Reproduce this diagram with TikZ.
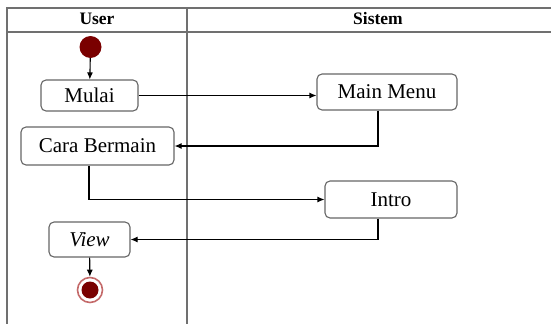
\documentclass[tikz,border=0pt]{standalone}
\usepackage{fontspec}
\setmainfont{Liberation Serif}
\usepackage{xcolor}
\usetikzlibrary{arrows.meta,positioning}
\definecolor{startred}{HTML}{7A0000}
\definecolor{ringred}{HTML}{C46A6A}
\definecolor{lanegray}{HTML}{707070}

\begin{document}
\begin{tikzpicture}[x=1pt,y=-1pt,>={Latex[length=7pt,width=6pt]},
   every node/.style={font=\fontsize{21}{24}\selectfont},
   act/.style={draw=gray!80!black,line width=1.1pt,rounded corners=5pt,fill=white,inner sep=0pt},
   lane/.style={draw=lanegray,line width=1.4pt},
   head/.style={font=\fontsize{17.5}{20}\selectfont\bfseries},
   flow/.style={->,line width=1.1pt}]
\useasboundingbox (0,0) rectangle (551,324);
% swimlanes
\draw[lane] (551,8) -- (7,8) -- (7,324);
\draw[lane] (7,32) -- (551,32);
\draw[lane] (187,8) -- (187,324);
\node[head] (user) at (97,19) {User};
\node[head] (sistem) at (378,19) {Sistem};
% activities
\node[circle,fill=startred,minimum size=22pt,inner sep=0pt] (start) at (90.5,47) {};
\node[act,minimum width=97pt,minimum height=31pt] (mulai) at (89.5,95.5) {Mulai};
\node[act,minimum width=140pt,minimum height=36pt] (menu) at (387,92) {Main Menu};
\node[act,minimum width=153pt,minimum height=38pt] (cara) at (97.5,146) {Cara Bermain};
\node[act,minimum width=132pt,minimum height=37pt] (intro) at (391,199.5) {Intro};
\node[act,minimum width=81pt,minimum height=35pt] (view) at (89.5,239.5) {\textit{View}};
\node[circle,draw=ringred,line width=1.6pt,fill=white,minimum size=25pt,inner sep=0pt] (end) at (90,290) {};
\fill[startred] (end.center) circle (8.5pt);
% flows
\draw[flow] (start) -- (mulai);
\draw[flow] (mulai.east) -- (mulai.east -| menu.west);
\draw[flow] ([xshift=-9pt]menu.south) |- (cara.east);
\draw[flow] ([xshift=-8.5pt]cara.south) |- (intro.west);
\draw[flow] ([xshift=-13pt]intro.south) |- (view.east);
\draw[flow] (view) -- (end);
\end{tikzpicture}
\end{document}
